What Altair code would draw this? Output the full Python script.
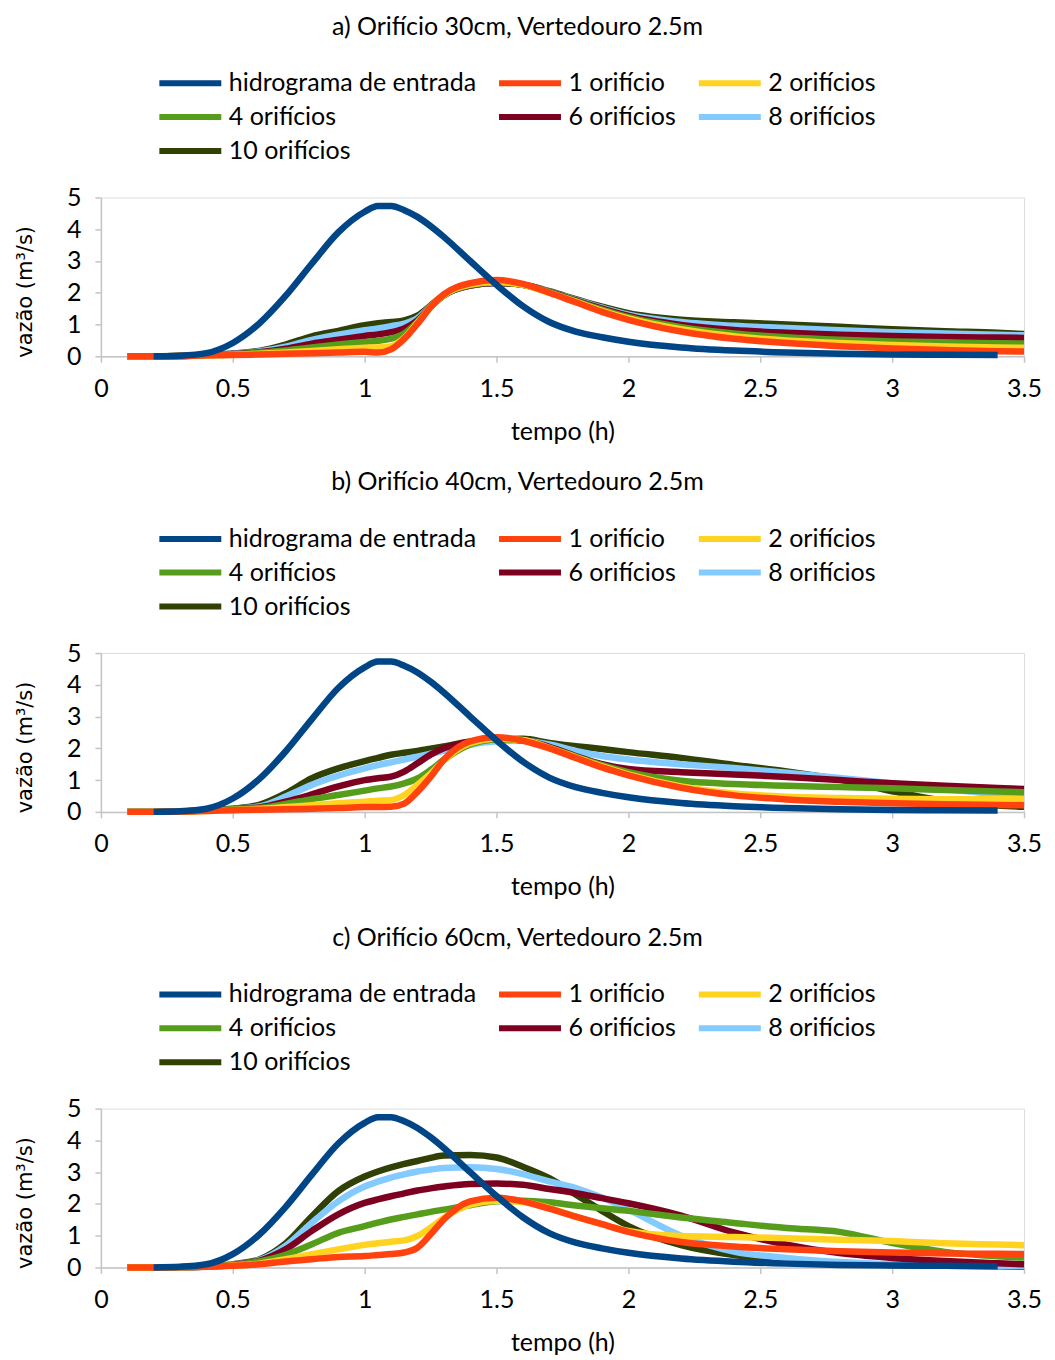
import altair as alt
import pandas as pd

# time grid (h)
T = [0.1, 0.2, 0.3, 0.4, 0.5, 0.6, 0.7, 0.8, 0.9, 1.0, 1.05, 1.1, 1.15, 1.2, 1.25, 1.3,
     1.4, 1.5, 1.6, 1.7, 1.8, 1.9, 2.0, 2.2, 2.4, 2.6, 2.8, 3.0, 3.2, 3.4, 3.5]

# inflow hydrograph (same in all panels)
entrada = [None, 0.0, 0.02, 0.1, 0.42, 1.03, 1.9, 2.92, 3.9, 4.55, 4.73, 4.73, 4.6, 4.39, 4.1, 3.76,
           3.0, 2.25, 1.58, 1.08, 0.78, 0.6, 0.46, 0.28, 0.18, 0.12, 0.08, 0.06, 0.05, 0.04, None]

# a) orifice 30 cm
a_1 = [0, 0, 0.01, 0.03, 0.04, 0.06, 0.08, 0.1, 0.12, 0.14, 0.12, 0.22, 0.55, 1.02, 1.55, 1.95,
       2.3, 2.4, 2.28, 2.0, 1.7, 1.4, 1.15, 0.78, 0.55, 0.42, 0.32, 0.25, 0.2, 0.16, 0.15]
a_2 = [0, 0, 0.01, 0.03, 0.05, 0.08, 0.12, 0.17, 0.22, 0.27, 0.28, 0.32, 0.58, 1.05, 1.55, 1.93,
       2.26, 2.34, 2.25, 2.0, 1.72, 1.43, 1.19, 0.85, 0.63, 0.5, 0.42, 0.36, 0.31, 0.28, 0.27]
a_4 = [0, 0, 0.01, 0.04, 0.06, 0.11, 0.18, 0.28, 0.37, 0.45, 0.49, 0.56, 0.72, 1.08, 1.55, 1.92,
       2.24, 2.32, 2.25, 2.02, 1.74, 1.47, 1.23, 0.92, 0.72, 0.6, 0.52, 0.47, 0.44, 0.41, 0.4]
a_6 = [0, 0, 0.01, 0.04, 0.07, 0.13, 0.24, 0.4, 0.52, 0.64, 0.69, 0.76, 0.88, 1.13, 1.56, 1.92,
       2.23, 2.31, 2.25, 2.03, 1.76, 1.5, 1.27, 0.99, 0.83, 0.74, 0.68, 0.64, 0.61, 0.59, 0.58]
a_8 = [0, 0, 0.01, 0.04, 0.08, 0.15, 0.3, 0.52, 0.68, 0.82, 0.88, 0.95, 1.03, 1.2, 1.58, 1.92,
       2.23, 2.31, 2.25, 2.04, 1.78, 1.53, 1.31, 1.08, 0.96, 0.89, 0.82, 0.76, 0.72, 0.68, 0.66]
a_10 = [0, 0, 0.01, 0.05, 0.09, 0.17, 0.37, 0.63, 0.8, 0.98, 1.04, 1.08, 1.13, 1.28, 1.6, 1.93,
        2.23, 2.31, 2.25, 2.05, 1.8, 1.56, 1.36, 1.15, 1.07, 1.0, 0.93, 0.85, 0.79, 0.74, 0.7]

# b) orifice 40 cm
b_1 = [0, 0, 0.01, 0.03, 0.05, 0.07, 0.08, 0.1, 0.12, 0.15, 0.15, 0.16, 0.26, 0.63, 1.1, 1.64,
       2.22, 2.35, 2.24, 2.0, 1.7, 1.4, 1.15, 0.76, 0.52, 0.39, 0.32, 0.27, 0.24, 0.22, 0.21]
b_2 = [0, 0, 0.01, 0.03, 0.06, 0.09, 0.15, 0.21, 0.27, 0.32, 0.35, 0.37, 0.53, 0.85, 1.2, 1.62,
       2.16, 2.3, 2.26, 2.01, 1.72, 1.43, 1.18, 0.8, 0.58, 0.48, 0.44, 0.41, 0.4, 0.4, 0.4]
b_4 = [0, 0, 0.01, 0.04, 0.08, 0.12, 0.25, 0.4, 0.53, 0.67, 0.74, 0.8, 0.9, 1.05, 1.32, 1.64,
       2.12, 2.28, 2.25, 2.02, 1.74, 1.47, 1.25, 0.98, 0.88, 0.82, 0.78, 0.74, 0.69, 0.64, 0.62]
b_6 = [0, 0, 0.01, 0.04, 0.09, 0.14, 0.32, 0.55, 0.8, 1.0, 1.06, 1.11, 1.27, 1.53, 1.8, 2.0,
       2.2, 2.28, 2.25, 2.05, 1.76, 1.5, 1.35, 1.25, 1.18, 1.1, 1.0, 0.9, 0.82, 0.75, 0.72]
b_8 = [0, 0, 0.01, 0.05, 0.1, 0.17, 0.48, 0.85, 1.14, 1.37, 1.47, 1.56, 1.65, 1.74, 1.83, 1.92,
       2.11, 2.22, 2.24, 2.12, 1.92, 1.76, 1.65, 1.5, 1.38, 1.23, 1.07, 0.9, 0.72, 0.56, 0.5]
b_10 = [0, 0, 0.01, 0.05, 0.1, 0.22, 0.58, 1.06, 1.37, 1.6, 1.7, 1.8, 1.86, 1.92, 1.99, 2.06,
        2.22, 2.27, 2.3, 2.17, 2.07, 1.98, 1.88, 1.7, 1.48, 1.27, 1.02, 0.65, 0.35, 0.2, 0.16]

# c) orifice 60 cm
c_1 = [0, 0, 0.01, 0.02, 0.05, 0.1, 0.19, 0.26, 0.33, 0.36, 0.39, 0.42, 0.47, 0.62, 1.04, 1.51,
       2.08, 2.19, 2.08, 1.85, 1.6, 1.36, 1.12, 0.8, 0.66, 0.57, 0.51, 0.47, 0.44, 0.43, 0.42]
c_2 = [0, 0, 0.01, 0.03, 0.06, 0.12, 0.26, 0.42, 0.57, 0.71, 0.76, 0.81, 0.85, 0.99, 1.25, 1.56,
       1.98, 2.1, 2.06, 1.87, 1.6, 1.36, 1.15, 0.99, 0.96, 0.92, 0.87, 0.83, 0.76, 0.72, 0.7]
c_4 = [0, 0, 0.01, 0.03, 0.07, 0.19, 0.4, 0.73, 1.09, 1.3, 1.41, 1.51, 1.59, 1.67, 1.75, 1.82,
       1.96, 2.08, 2.1, 2.05, 1.95, 1.86, 1.78, 1.57, 1.4, 1.24, 1.12, 0.77, 0.49, 0.35, 0.31]
c_6 = [0, 0, 0.01, 0.03, 0.08, 0.21, 0.57, 1.15, 1.67, 2.03, 2.14, 2.24, 2.33, 2.42, 2.49, 2.55,
       2.63, 2.64, 2.6, 2.47, 2.34, 2.18, 2.02, 1.63, 1.1, 0.72, 0.45, 0.3, 0.2, 0.13, 0.1]
c_8 = [0, 0, 0.01, 0.03, 0.09, 0.23, 0.68, 1.41, 2.08, 2.55, 2.7, 2.83, 2.93, 3.02, 3.08, 3.13,
       3.15, 3.1, 2.94, 2.71, 2.5, 2.2, 1.82, 1.0, 0.5, 0.3, 0.17, 0.1, 0.07, 0.05, 0.05]
c_10 = [0, 0, 0.01, 0.03, 0.1, 0.25, 0.75, 1.61, 2.4, 2.86, 3.02, 3.15, 3.26, 3.35, 3.45, 3.52,
        3.54, 3.46, 3.17, 2.81, 2.3, 1.78, 1.3, 0.7, 0.39, 0.24, 0.13, 0.08, 0.05, 0.04, 0.03]

NAMES = ["hidrograma de entrada", "1 orifício", "2 orifícios", "4 orifícios",
         "6 orifícios", "8 orifícios", "10 orifícios"]
COLORS = ["#004586", "#ff420e", "#ffd320", "#579d1c", "#7e0021", "#83caff", "#314004"]
TITLES = ["a) Orifício 30cm, Vertedouro 2.5m",
          "b) Orifício 40cm, Vertedouro 2.5m",
          "c) Orifício 60cm, Vertedouro 2.5m"]
PANELS = [[a_1, a_2, a_4, a_6, a_8, a_10],
          [b_1, b_2, b_4, b_6, b_8, b_10],
          [c_1, c_2, c_4, c_6, c_8, c_10]]
X_TICKS = [0, 0.5, 1, 1.5, 2, 2.5, 3, 3.5]
Y_TICKS = [0, 1, 2, 3, 4, 5]

FONT = "Lato"
FS = 25
GREY = "#c4c4c4"


def panel(title, series):
    rows = []
    for name, vals in zip(NAMES, [entrada] + series):
        for t, v in zip(T, vals):
            if v is not None:
                rows.append({"tempo": t, "vazao": v, "serie": name})
    df = pd.DataFrame(rows)

    x = alt.X("tempo:Q",
              scale=alt.Scale(domain=[0, 3.5], nice=False),
              axis=alt.Axis(values=X_TICKS, format="~g", grid=False,
                            labelFont=FONT, labelFontSize=FS, labelColor="black",
                            labelFlush=False, labelOverlap=False, labelPadding=14,
                            domainColor=GREY, domainWidth=1.5, tickColor=GREY,
                            tickWidth=1.5, tickSize=6,
                            title="tempo (h)", titleFont=FONT, titleFontSize=FS,
                            titleFontWeight="normal", titleColor="black", titlePadding=18))
    y = alt.Y("vazao:Q",
              scale=alt.Scale(domain=[0, 5], nice=False),
              axis=alt.Axis(values=Y_TICKS, grid=False,
                            labelFont=FONT, labelFontSize=FS, labelColor="black",
                            labelFlush=False, labelPadding=14,
                            domainColor=GREY, domainWidth=1.5, tickColor=GREY,
                            tickWidth=1.5, tickSize=6,
                            title="vazão (m³/s)", titleFont="DejaVu Sans", titleFontSize=21,
                            titleFontWeight="normal", titleColor="black", titlePadding=31,
                            titleY=94))
    color = alt.Color("serie:N",
                      scale=alt.Scale(domain=NAMES, range=COLORS),
                      legend=alt.Legend(orient="none", direction="horizontal",
                                        legendX=76, legendY=-128, columns=3,
                                        title=None, symbolType="M-3,0H3", symbolSize=427,
                                        symbolStrokeWidth=6, labelFont=FONT, labelFontSize=FS,
                                        labelColor="black", labelLimit=400, labelOffset=25,
                                        columnPadding=10, rowPadding=7, padding=0))
    layers = []
    for name in reversed(NAMES):
        layers.append(
            alt.Chart(df)
            .transform_filter(alt.datum.serie == name)
            .mark_line(strokeWidth=6.5, interpolate="monotone")
            .encode(x=x, y=y, color=color)
        )
    return alt.layer(*layers).properties(
        width=924, height=159,
        title=alt.TitleParams(title, font=FONT, fontSize=FS, fontWeight="normal",
                              color="black", anchor="middle", offset=30, dx=-45),
    )


chart = alt.vconcat(*[panel(t, s) for t, s in zip(TITLES, PANELS)], spacing=24).resolve_scale(
    color="independent").resolve_legend(color="independent").configure_view(
    stroke=GREY, strokeWidth=1.5).configure(background="white")

chart.save("out.html", embed_options={"renderer": "svg", "actions": False})
